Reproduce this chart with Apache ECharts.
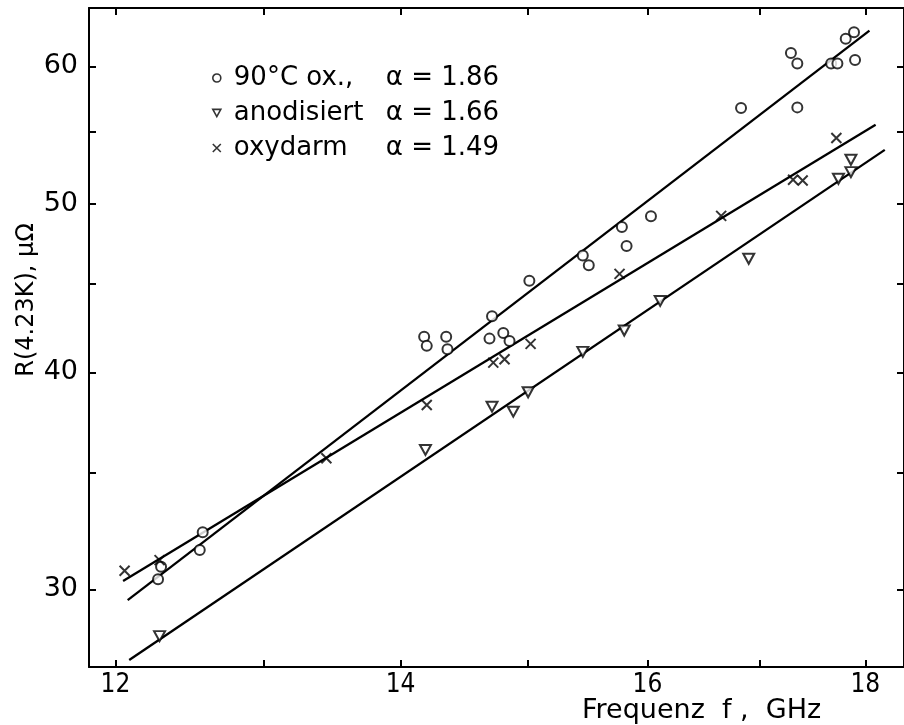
<!DOCTYPE html>
<html><head><meta charset="utf-8">
<script src="https://cdn.jsdelivr.net/npm/echarts@6/dist/echarts.min.js"></script>
<style>html,body{margin:0;padding:0;background:#fff}#c{width:904px;height:725px}</style>
</head><body><div id="c"></div>
<script>
// ---- data (frequency in GHz, resistance in µΩ) ----
const oxName = '90°C ox.,';
const oxAlpha = '1.86';
const oxF = [12.30, 12.28, 12.58, 12.56, 14.18, 14.20, 14.35, 14.36, 14.69, 14.71, 14.80, 14.85, 15.01, 15.45, 15.50, 15.78, 15.82, 16.03, 16.83, 17.29, 17.35, 17.35, 17.67, 17.73, 17.81, 17.89, 17.90];
const oxR = [30.92, 30.41, 32.36, 31.61, 41.93, 41.43, 41.93, 41.25, 41.83, 43.09, 42.14, 41.70, 45.17, 46.7, 46.1, 48.5, 47.3, 49.2, 56.78, 61.08, 60.24, 56.83, 60.24, 60.24, 62.24, 62.77, 60.51];
const oxLineF = [12.08, 18.04];
const oxLineR = [29.58, 62.91];

const anName = 'anodisiert';
const anAlpha = '1.66';
const anF = [12.29, 14.19, 14.71, 14.88, 15.00, 15.45, 15.80, 16.11, 16.90, 17.74, 17.86, 17.86];
const anR = [28.20, 36.09, 38.22, 37.97, 38.96, 41.10, 42.28, 43.97, 46.5, 51.70, 53.02, 52.16];
const anLineF = [12.09, 18.19];
const anLineR = [27.32, 53.72];

const oyName = 'oxydarm';
const oyAlpha = '1.49';
const oyF = [12.06, 12.29, 13.45, 14.20, 14.72, 14.81, 15.02, 15.76, 16.65, 17.31, 17.40, 17.72];
const oyR = [30.75, 31.19, 35.7, 38.31, 40.52, 40.70, 41.54, 45.58, 49.22, 51.63, 51.58, 54.57];
const oyLineF = [12.05, 18.10];
const oyLineR = [30.34, 55.54];

const xMin = 11.83, xMax = 18.38;
const yMin = 27.07, yMax = 64.83;
const xTicks = [12, 13, 14, 15, 16, 17, 18];
const xLabels = [12, 14, 16, 18];
const yTicks = [30, 35, 40, 45, 50, 55, 60];
const yLabels = [30, 40, 50, 60];
const xTitle = 'Frequenz  f ,  GHz';
const yTitle = 'R(4.23K), μΩ';

// ---- build ----
const L = Math.log;
const pts = (fs, rs) => fs.map((f, i) => [L(f), L(rs[i])]);
const fmt = v => String(Math.round(Math.exp(v)));

const chart = echarts.init(document.getElementById('c'), null, {renderer: 'canvas'});

const axisLineStyle = {show: true, lineStyle: {color: '#000', width: 2}};
const tickStyle = {lineStyle: {color: '#000', width: 2}};

const markerStyle = {color: '#fff', borderColor: '#000', borderWidth: 2};
const lineSeries = (name, fs, rs) => ({
  type: 'line', name: name, data: pts(fs, rs), symbol: 'none', silent: true,
  lineStyle: {color: '#000', width: 2.3}, z: 2, animation: false
});

const option = {
  animation: false,
  backgroundColor: '#fff',
  grid: {left: 89, top: 8, width: 820, height: 659, containLabel: false},
  xAxis: [{
    type: 'value', position: 'bottom', min: L(xMin), max: L(xMax),
    axisLine: axisLineStyle,
    axisTick: Object.assign({show: true, inside: true, length: 7, customValues: xTicks.map(L)}, tickStyle),
    axisLabel: {show: true, customValues: xLabels.map(L), formatter: fmt, margin: 5,
      fontFamily: '"DejaVu Sans Condensed", sans-serif', fontSize: 26, color: '#000'},
    splitLine: {show: false}
  }, {
    type: 'value', position: 'top', min: L(xMin), max: L(xMax),
    axisLine: axisLineStyle,
    axisTick: Object.assign({show: true, inside: true, length: 7, customValues: xTicks.map(L)}, tickStyle),
    axisLabel: {show: false},
    splitLine: {show: false}
  }],
  yAxis: [{
    type: 'value', position: 'left', min: L(yMin), max: L(yMax),
    axisLine: axisLineStyle,
    axisTick: Object.assign({show: true, inside: true, length: 7, customValues: yTicks.map(L)}, tickStyle),
    axisLabel: {show: true, customValues: yLabels.map(L), formatter: fmt, margin: 11,
      fontFamily: '"DejaVu Sans", sans-serif', fontSize: 27, color: '#000'},
    splitLine: {show: false}
  }, {
    type: 'value', position: 'right', min: L(yMin), max: L(yMax),
    axisLine: axisLineStyle,
    axisTick: Object.assign({show: true, inside: true, length: 7, customValues: yTicks.map(L)}, tickStyle),
    axisLabel: {show: false},
    splitLine: {show: false}
  }],
  legend: {
    data: [oxName, anName, oyName],
    orient: 'vertical', left: 207, top: 60,
    itemWidth: 8, itemHeight: 8, itemGap: 9, itemTextGap: 10,
    selectedMode: false,
    itemStyle: {borderWidth: 1.6},
    textStyle: {
      fontFamily: '"DejaVu Sans", sans-serif', fontSize: 26, color: '#000', lineHeight: 26,
      rich: {
        a: {fontFamily: '"DejaVu Sans", sans-serif', fontSize: 26, color: '#000', width: 152, lineHeight: 26, padding: [0, 0, 0, 8]},
        b: {fontFamily: '"DejaVu Sans", sans-serif', fontSize: 26, color: '#000', lineHeight: 26}
      }
    },
    formatter: function (n) {
      const a = n === oxName ? oxAlpha : n === anName ? anAlpha : oyAlpha;
      return '{a|' + n + '}{b|α = ' + a + '}';
    }
  },
  graphic: [{
    type: 'text', left: 582, top: 697,
    style: {text: xTitle, font: '27px "DejaVu Sans", sans-serif', fill: '#000'}
  }, {
    type: 'text', x: 27, y: 300, rotation: Math.PI / 2,
    style: {text: yTitle, font: '24px "DejaVu Sans", sans-serif', fill: '#000', align: 'center', verticalAlign: 'middle'}
  }],
  series: [
    lineSeries('oxLine', oxLineF, oxLineR),
    lineSeries('anLine', anLineF, anLineR),
    lineSeries('oyLine', oyLineF, oyLineR),
    {type: 'scatter', name: oxName, data: pts(oxF, oxR), symbol: 'circle', symbolSize: 10,
      itemStyle: markerStyle, z: 5},
    {type: 'scatter', name: anName, data: pts(anF, anR), symbol: 'path://M0 0L10 0L5 9Z', symbolSize: [11, 10],
      itemStyle: markerStyle, z: 5},
    {type: 'scatter', name: oyName, data: pts(oyF, oyR), symbol: 'path://M0 0L10 10M10 0L0 10', symbolSize: 10,
      itemStyle: {color: 'rgba(0,0,0,0)', borderColor: '#000', borderWidth: 2}, z: 5}
  ]
};
chart.setOption(option);
</script>
</body></html>
